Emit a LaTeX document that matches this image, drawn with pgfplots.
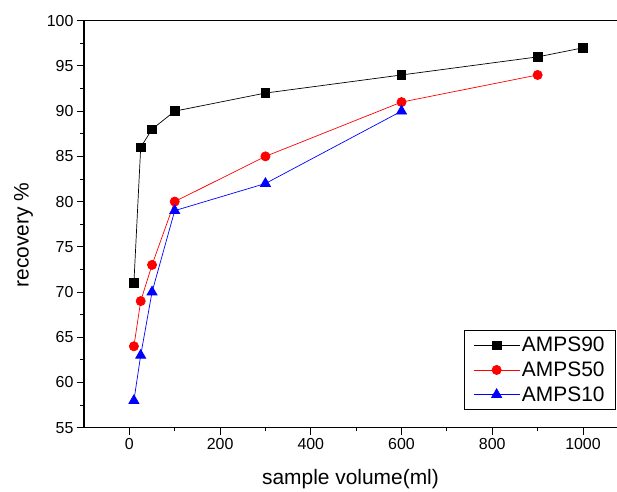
\documentclass[border=0pt]{standalone}
\usepackage{fontspec}
\setmainfont{Liberation Sans}
\usepackage{pgfplots}
\pgfplotsset{compat=1.18}
\begin{document}
\begin{tikzpicture}
\begin{axis}[
    at={(0,0)}, anchor=south west,
    scale only axis,
    width=533bp, height=407bp,
    xmin=-100, xmax=1075,
    ymin=55, ymax=100,
    axis x line*=bottom,
    axis y line*=left,
    axis line style={line width=1.1bp},
    xtick={0,200,...,1000},
    ytick={55,60,...,100},
    minor x tick num=1,
    minor y tick num=1,
    tick align=outside,
    major tick length=7bp,
    minor tick length=3.5bp,
    tick style={line width=0.9bp, black},
    /pgf/number format/assume math mode=true,
    /pgf/number format/1000 sep={},
    tick label style={font=\fontsize{16}{19}\selectfont},
    label style={font=\fontsize{21}{24}\selectfont},
    xlabel={sample volume(ml)},
    ylabel={recovery \%},
    xlabel style={yshift=-13bp},
    ylabel style={yshift=7bp, xshift=-11bp},
    legend cell align=left,
    legend style={
        at={(0.998,0.0435)}, anchor=south east,
        draw=black, line width=0.8bp, fill=white,
        font=\fontsize{21}{24}\selectfont,
        inner xsep=9bp, inner ysep=5bp,
        row sep=4.5bp,
    },
    legend image code/.code={
        \draw[mark repeat=2, mark phase=2]
            plot coordinates {(0bp,0bp) (23bp,0bp) (46bp,0bp)};
    },
]
\draw[line width=1.1bp] (rel axis cs:0,1) -- (rel axis cs:1,1);

\addplot[black, line width=0.7bp, mark=square*, mark size=4.3bp,
    mark options={solid, fill=black}]
coordinates {
    (10,71) (25,86) (50,88) (100,90) (300,92) (600,94) (900,96) (1000,97)
};
\addlegendentry{AMPS90}

\addplot[red, line width=0.7bp, mark=*, mark size=4.6bp,
    mark options={solid, fill=red}]
coordinates {
    (10,64) (25,69) (50,73) (100,80) (300,85) (600,91) (900,94)
};
\addlegendentry{AMPS50}

\addplot[blue, line width=0.7bp, mark=triangle*, mark size=5.8bp,
    mark options={solid, fill=blue}]
coordinates {
    (10,58) (25,63) (50,70) (100,79) (300,82) (600,90)
};
\addlegendentry{AMPS10}
\end{axis}
\pgfresetboundingbox
\useasboundingbox (-84bp,-64.3bp) rectangle (533bp,427.7bp);
\end{tikzpicture}
\end{document}
